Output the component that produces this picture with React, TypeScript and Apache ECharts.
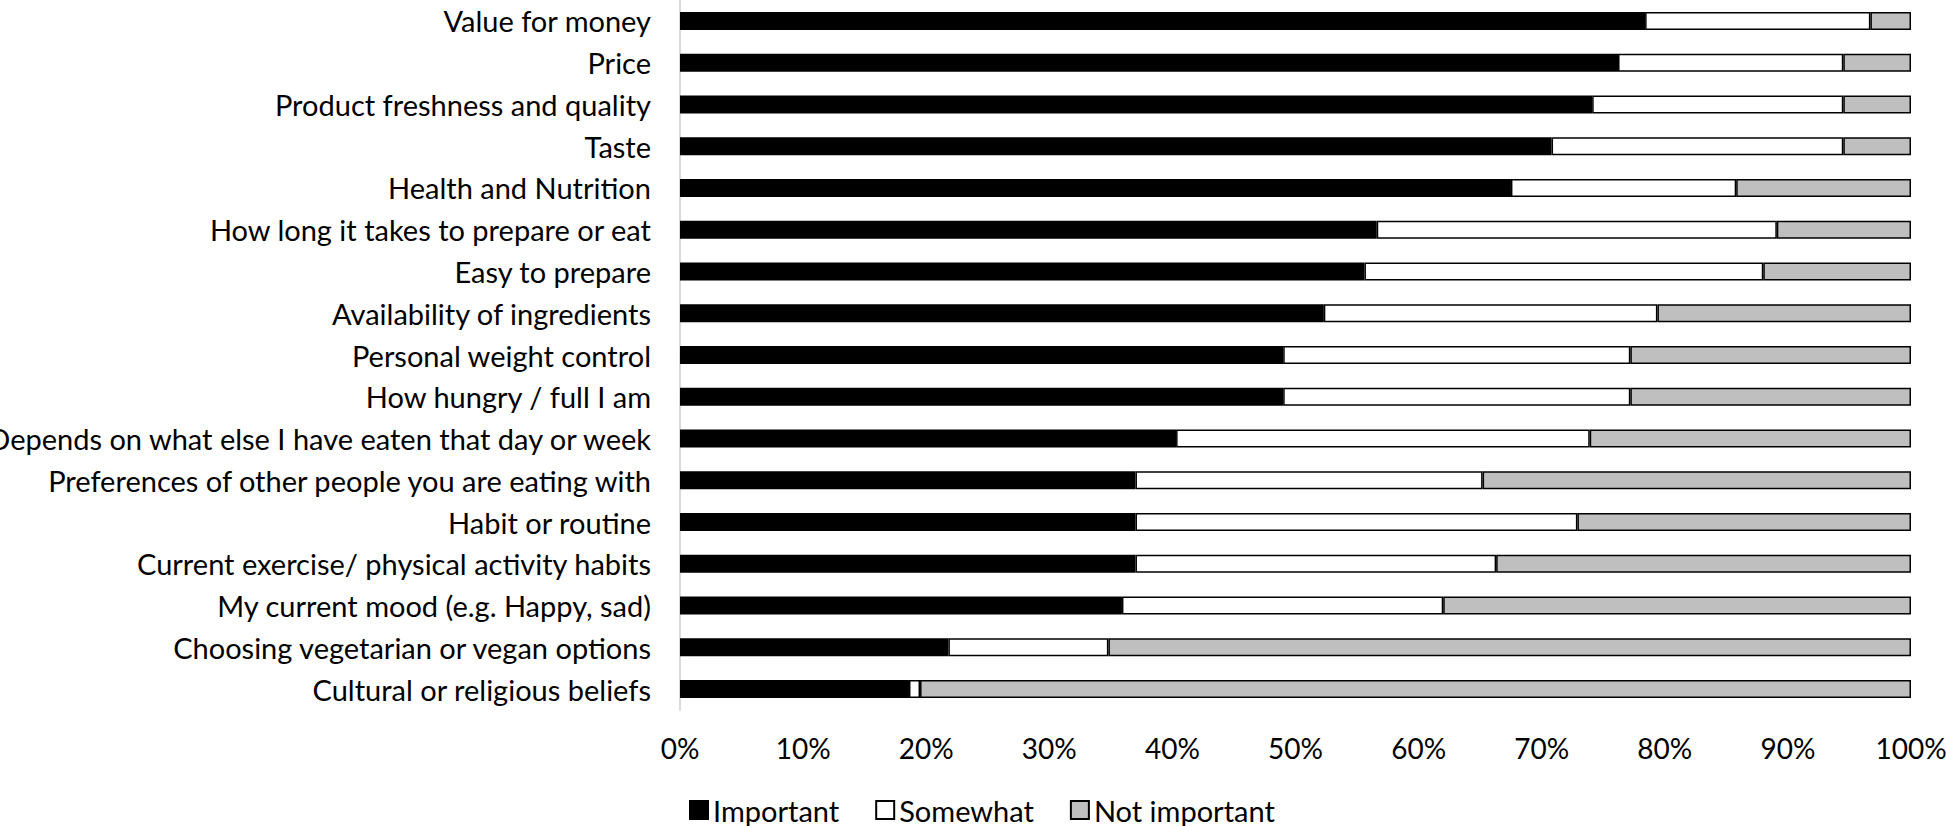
import React, { useEffect, useRef } from "react";
import * as echarts from "echarts";

const categories = [
  "Value for money",
  "Price",
  "Product freshness and quality",
  "Taste",
  "Health and Nutrition",
  "How long it takes to prepare or eat",
  "Easy to prepare",
  "Availability of ingredients",
  "Personal weight control",
  "How hungry / full I am",
  "Depends on what else I have eaten that day or week",
  "Preferences of other people you are eating with",
  "Habit or routine",
  "Current exercise/ physical activity habits",
  "My current mood (e.g. Happy, sad)",
  "Choosing vegetarian or vegan options",
  "Cultural or religious beliefs",
];

const important = [78.4, 76.2, 74.1, 70.8, 67.5, 56.6, 55.6, 52.3, 49.0, 49.0, 40.3, 37.0, 37.0, 37.0, 35.9, 21.8, 18.6];
const somewhat = [18.3, 18.3, 20.4, 23.7, 18.3, 32.5, 32.4, 27.1, 28.2, 28.2, 33.6, 28.2, 35.9, 29.3, 26.1, 13.0, 0.9];
const notImportant = [3.3, 5.5, 5.5, 5.5, 14.2, 10.9, 12.0, 20.6, 22.8, 22.8, 26.1, 34.8, 27.1, 33.7, 38.0, 65.2, 80.5];

const seriesNames = ["Important", "Somewhat", "Not important"];
const xTicks = { min: 0, max: 100, interval: 10 };

const FONT = "Lato";

export default function App() {
  const ref = useRef<HTMLDivElement>(null);
  useEffect(() => {
    if (!ref.current) return;
    const chart = echarts.init(ref.current, null, { renderer: "svg" });
    const mk = (name: string, data: number[], color: string) => ({
      name,
      type: "bar",
      stack: "total",
      data,
      barWidth: 18,
      itemStyle: { color, borderColor: "#000", borderWidth: 1.5 },
      emphasis: { disabled: true },
    });
    chart.setOption({
      animation: false,
      textStyle: { fontFamily: FONT },
      grid: {
        left: 680,
        right: 35,
        top: 0,
        bottom: 116,
        containLabel: false,
        outerBoundsMode: "none",
      },
      xAxis: {
        type: "value",
        min: xTicks.min,
        max: xTicks.max,
        interval: xTicks.interval,
        axisLine: { show: false },
        axisTick: { show: false },
        splitLine: { show: false },
        axisLabel: {
          formatter: "{value}%",
          fontSize: 28,
          color: "#000",
          fontFamily: FONT,
          margin: 24,
        },
      },
      yAxis: {
        type: "category",
        inverse: true,
        data: categories,
        axisLine: { show: true, lineStyle: { color: "#d9d9d9", width: 2 } },
        axisTick: { show: false },
        axisLabel: { fontSize: 29, color: "#000", fontFamily: FONT, margin: 29 },
      },
      legend: {
        left: 689,
        top: 795,
        itemWidth: 18,
        itemHeight: 18,
        itemGap: 36,
        icon: "rect",
        padding: 0,
        textStyle: { fontSize: 29, lineHeight: 30, color: "#000", fontFamily: FONT },
        data: seriesNames,
      },
      series: [
        mk(seriesNames[0], important, "#000000"),
        mk(seriesNames[1], somewhat, "#ffffff"),
        mk(seriesNames[2], notImportant, "#bfbfbf"),
      ],
    });
    return () => chart.dispose();
  }, []);
  return (
    <div
      ref={ref}
      style={{ position: "absolute", left: 0, top: 0, width: 1946, height: 826, background: "#fff" }}
    />
  );
}
